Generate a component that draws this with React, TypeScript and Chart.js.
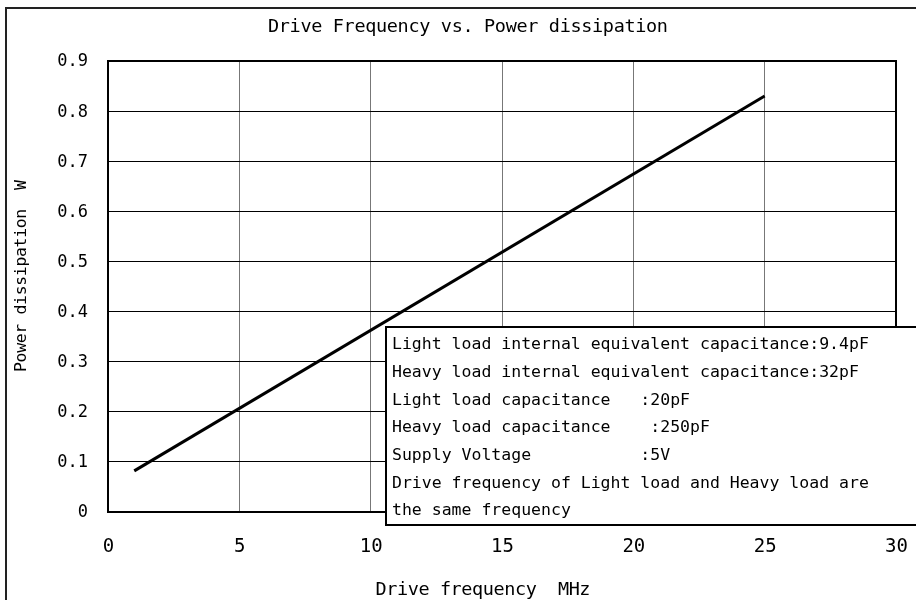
import React, { useEffect, useRef } from "react";
import { Chart, registerables } from "chart.js";

Chart.register(...registerables);

// ---- data ----
const chartTitle = "Drive Frequency vs. Power dissipation";
const xAxisTitle = "Drive frequency  MHz";
const yAxisTitle = "Power dissipation  W";
const frequencyMHz = [1, 25];
const powerW = [0.082, 0.83];
const xTicks = [0, 5, 10, 15, 20, 25, 30];
const xTickLabels = ["0", "5", "10", "15", "20", "25", "30"];
const yTicks = [0, 0.1, 0.2, 0.3, 0.4, 0.5, 0.6, 0.7, 0.8, 0.9];
const yTickLabels = ["0", "0.1", "0.2", "0.3", "0.4", "0.5", "0.6", "0.7", "0.8", "0.9"];
const noteLines = [
  "Light load internal equivalent capacitance:9.4pF",
  "Heavy load internal equivalent capacitance:32pF",
  "Light load capacitance   :20pF",
  "Heavy load capacitance    :250pF",
  "Supply Voltage           :5V",
  "Drive frequency of Light load and Heavy load are",
  "the same frequency",
];

const MONO = '"DejaVu Sans Mono", "Liberation Mono", monospace';

function fitText(ctx: CanvasRenderingContext2D, text: string, cx: number, cy: number, width: number, size: number) {
  ctx.font = `${size}px ${MONO}`;
  (ctx as any).letterSpacing = "0px";
  const w0 = ctx.measureText(text).width;
  const ls = (width - w0) / Math.max(1, text.length - 1);
  (ctx as any).letterSpacing = `${ls}px`;
  ctx.textAlign = "left";
  ctx.textBaseline = "middle";
  ctx.fillText(text, cx - width / 2, cy);
  (ctx as any).letterSpacing = "0px";
}

const decorPlugin = {
  id: "decor",
  beforeDatasetsDraw(chart: any) {
    const ctx: CanvasRenderingContext2D = chart.ctx;
    const { left, top, right, bottom } = chart.chartArea;
    ctx.save();
    ctx.strokeStyle = "#000";
    ctx.lineWidth = 2;
    ctx.strokeRect(left, top, right - left, bottom - top);
    ctx.restore();
  },
  afterDraw(chart: any) {
    const ctx: CanvasRenderingContext2D = chart.ctx;
    const xs = chart.scales.x;
    const ys = chart.scales.y;
    ctx.save();
    ctx.fillStyle = "#000";

    // outer frame
    ctx.strokeStyle = "#222";
    ctx.lineWidth = 2;
    ctx.strokeRect(6, 8, 1000, 1000);

    // title
    fitText(ctx, chartTitle, 468, 27, 400, 18.5);

    // x tick labels
    ctx.font = `19px ${MONO}`;
    (ctx as any).letterSpacing = "0px";
    ctx.textAlign = "center";
    ctx.textBaseline = "middle";
    xTicks.forEach((v, i) => {
      ctx.fillText(xTickLabels[i], xs.getPixelForValue(v) + 0.5, 547);
    });

    // y tick labels
    ctx.font = `17px ${MONO}`;
    ctx.textAlign = "right";
    yTicks.forEach((v, i) => {
      ctx.fillText(yTickLabels[i], 88, ys.getPixelForValue(v) + 1);
    });

    // axis titles
    fitText(ctx, xAxisTitle, 483, 590, 215, 18.5);
    ctx.save();
    ctx.translate(22, 276);
    ctx.rotate(-Math.PI / 2);
    fitText(ctx, yAxisTitle, 0, 0, 192, 16.5);
    ctx.restore();

    // note box
    ctx.fillStyle = "#fff";
    ctx.fillRect(386, 327, 540, 198);
    ctx.strokeStyle = "#000";
    ctx.lineWidth = 2;
    ctx.strokeRect(386, 327, 540, 198);
    ctx.fillStyle = "#000";
    ctx.font = `16.5px ${MONO}`;
    (ctx as any).letterSpacing = "0px";
    ctx.textAlign = "left";
    ctx.textBaseline = "middle";
    noteLines.forEach((t, i) => {
      ctx.fillText(t, 392, 345 + i * 27.7);
    });
    ctx.restore();
  },
};

export default function App() {
  const ref = useRef<HTMLCanvasElement | null>(null);
  useEffect(() => {
    if (!ref.current) return;
    const chart = new Chart(ref.current, {
      type: "scatter",
      data: {
        datasets: [
          {
            data: frequencyMHz.map((x, i) => ({ x, y: powerW[i] })),
            showLine: true,
            borderColor: "#000",
            borderWidth: 3,
            pointRadius: 0,
            fill: false,
          },
        ],
      },
      options: {
        animation: false,
        responsive: false,
        devicePixelRatio: 1,
        layout: { padding: { left: 108, top: 61, right: 20, bottom: 88 } },
        plugins: { legend: { display: false }, tooltip: { enabled: false }, title: { display: false } },
        scales: {
          x: {
            type: "linear",
            min: 0,
            max: 30,
            ticks: { stepSize: 5, display: false },
            grid: { color: "#777", lineWidth: 1, drawTicks: false },
            border: { display: false },
          },
          y: {
            type: "linear",
            min: 0,
            max: 0.9,
            ticks: { stepSize: 0.1, display: false },
            grid: { color: "#000", lineWidth: 1, drawTicks: false },
            border: { display: false },
          },
        },
      },
      plugins: [decorPlugin],
    });
    return () => chart.destroy();
  }, []);
  return (
    <div style={{ position: "fixed", left: 0, top: 0, width: 916, height: 600, background: "#fff" }}>
      <canvas ref={ref} width={916} height={600} style={{ width: 916, height: 600, display: "block" }} />
    </div>
  );
}
